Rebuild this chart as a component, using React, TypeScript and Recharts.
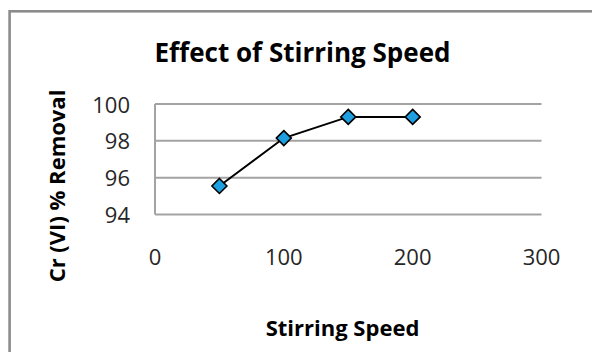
import React from 'react';
import { LineChart, Line, XAxis, YAxis, CartesianGrid } from 'recharts';

const stirringSpeeds = [50, 100, 150, 200];
const removalPercent = [95.55, 98.15, 99.3, 99.3];
const xTicks = [0, 100, 200, 300];
const yTicks = [94, 96, 98, 100];
const chartTitle = 'Effect of Stirring Speed';
const xAxisTitle = 'Stirring Speed';
const yAxisTitle = 'Cr (VI) % Removal';

const data = stirringSpeeds.map((s, i) => ({ speed: s, removal: removalPercent[i] }));

const FONT = '"Open Sans", sans-serif';
const W = 592;
const H = 352;

const Diamond = (props: any) => {
  const { cx, cy } = props;
  if (cx == null || cy == null) return null;
  const r = 7.5;
  return (
    <path
      d={`M${cx},${cy - r} L${cx + r},${cy} L${cx},${cy + r} L${cx - r},${cy} Z`}
      fill="#1E9FDF"
      stroke="#000"
      strokeWidth={1.6}
    />
  );
};

const XTick = (props: any) => {
  const { x, y, payload } = props;
  return (
    <text x={x} y={y + 50.5} textAnchor="middle" fontFamily={FONT} fontSize={22} fill="#262626">
      {payload.value}
    </text>
  );
};

const YTick = (props: any) => {
  const { x, y, payload } = props;
  return (
    <text x={x - 25} y={y + 8.5} textAnchor="end" fontFamily={FONT} fontSize={22} fill="#262626">
      {payload.value}
    </text>
  );
};

export default function App() {
  return (
    <div style={{ position: 'absolute', left: 0, top: 0, width: W, height: H, background: '#fff', overflow: 'hidden' }}>
      <LineChart
        width={W}
        height={H}
        data={data}
        margin={{ top: 104, right: 50.5, left: 0, bottom: 0 }}
      >
        <CartesianGrid horizontal vertical={false} stroke="#a3a3a3" strokeWidth={2} />
        <XAxis
          type="number"
          dataKey="speed"
          domain={[0, 300]}
          ticks={xTicks}
          height={137.5}
          axisLine={false}
          tickLine={false}
          tickSize={0}
          tickMargin={0}
          tick={<XTick />}
          interval={0}
        />
        <YAxis
          type="number"
          domain={[94, 100]}
          ticks={yTicks}
          width={155}
          axisLine={{ stroke: '#a3a3a3', strokeWidth: 2 }}
          tickLine={false}
          tickSize={0}
          tickMargin={0}
          tick={<YTick />}
          interval={0}
        />
        <Line
          type="linear"
          dataKey="removal"
          stroke="#000"
          strokeWidth={2}
          dot={<Diamond />}
          activeDot={false}
          isAnimationActive={false}
        />
      </LineChart>
      <svg width={W} height={H} style={{ position: 'absolute', left: 0, top: 0, pointerEvents: 'none' }}>
        <rect x={9.6} y={11.3} width={700} height={500} fill="none" stroke="#8c8c8c" strokeWidth={2.6} />
        <text x={302.5} y={61.7} textAnchor="middle" fontFamily={FONT} fontWeight="bold" fontSize={26} fill="#000">
          {chartTitle}
        </text>
        <text x={342.5} y={336} textAnchor="middle" fontFamily={FONT} fontWeight="bold" fontSize={22} fill="#000">
          {xAxisTitle}
        </text>
        <text
          x={65}
          y={186}
          textAnchor="middle"
          fontFamily={FONT}
          fontWeight="bold"
          fontSize={22}
          fill="#000"
          transform="rotate(-90, 65, 186)"
        >
          {yAxisTitle}
        </text>
      </svg>
    </div>
  );
}
